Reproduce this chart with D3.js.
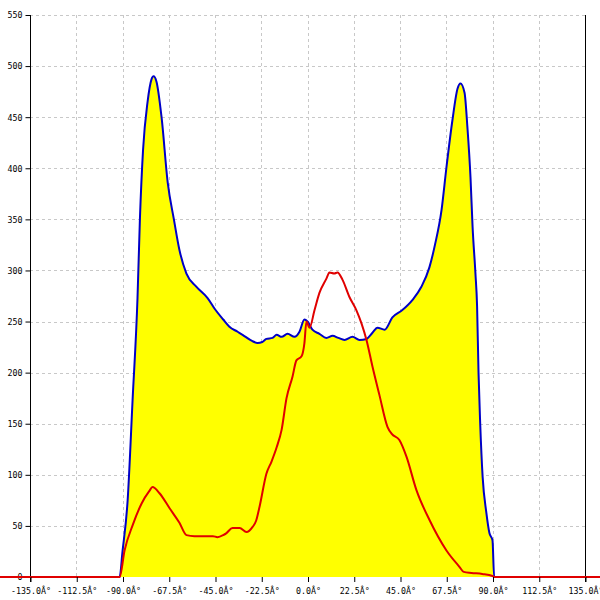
<!DOCTYPE html>
<html><head><meta charset="utf-8">
<script src="https://cdn.jsdelivr.net/npm/d3@7"></script>
<style>body{margin:0;background:#fff}</style>
</head><body>
<svg id="c" width="600" height="600"></svg>
<script>
const xTicks = [-135, -112.5, -90, -67.5, -45, -22.5, 0, 22.5, 45, 67.5, 90, 112.5, 135];
const yTicks = [0, 50, 100, 150, 200, 250, 300, 350, 400, 450, 500, 550];
const blueAngles = [-180,-91.4,-90,-87.5,-85.1,-82.7,-81.5,-80,-77.8,-75.9,-74.9,-73.5,-71,-68,-65,-62.3,-58.9,-54,-48.6,-45,-41,-38,-34,-31.6,-27,-24.3,-22,-20,-17,-15,-12.6,-9.7,-6.3,-3.9,-1.5,0,2.4,5.8,9.2,12.2,15,18,21.9,25.3,28.7,31.6,34,37.5,41.3,46,51,55.4,59.3,62,65.2,67.6,70.5,73,74.4,76.4,77.8,79.3,80.3,81.7,82.5,83.2,84,85.2,87,88.5,90,90.8,180];
const blueValues = [0,0,25,75,173,273,352,418,465,487,490,485,450,386,350,320,297,284,273,262,252,245,240,237,231,229,230,233,234,237,235,238,235,240,252,250,242,238,234,236,234,232,235,232,233,239,244,242,254,261,271,284,303,325,359,401,447,478,483,474,440,391,343,297,265,200,151,98,63,43,36,0,0];
const redAngles = [-180,-91.4,-89,-85,-80.7,-77,-75.4,-72,-67,-62.3,-58.9,-55,-46,-43.8,-41,-39.4,-36.5,-33,-29.7,-26.7,-25,-23.3,-20,-17.5,-15,-12.6,-10.2,-7.3,-5.4,-2.9,-1.5,-0.5,1,3.4,5.8,9.2,10.7,13,14.6,17,20.4,23.8,26.3,28.7,31.6,35,38.9,41,44.7,48.1,53,59.3,67.6,73.9,76,79.8,85,90,91,180];
const redValues = [0,0,26,51,72,84,88,82,67,53,41,40,40,39,41,43,48,48,44,49,55,69,101,113,127,144,175,196,212,216,229,250,244,261,278,292,298,297,298,291,274,261,248,232,206,178,147,140,134,118,85,56,26,10,5,4,3,1,0,0];

const svg = d3.select("#c");
const x = d3.scaleLinear().domain([-135, 135]).range([30, 585]);
const y = d3.scaleLinear().domain([0, 550]).range([577, 15]);
const font = "'DejaVu Sans Mono', monospace";

// grid
svg.append("g").selectAll("line").data(yTicks.filter(d => d > 0)).join("line")
  .attr("x1", 30).attr("x2", 585).attr("y1", d => Math.round(y(d)) + 0.5).attr("y2", d => Math.round(y(d)) + 0.5)
  .attr("stroke", "#c8c8c8").attr("stroke-dasharray", "3,3");
svg.append("g").selectAll("line").data(xTicks.filter(d => d > -135 && d < 135)).join("line")
  .attr("x1", d => Math.round(x(d)) + 0.5).attr("x2", d => Math.round(x(d)) + 0.5).attr("y1", 15).attr("y2", 577)
  .attr("stroke", "#c8c8c8").attr("stroke-dasharray", "3,3");

const blue = blueAngles.map((a, i) => [a, blueValues[i]]);
const red = redAngles.map((a, i) => [a, redValues[i]]);
const curve = d3.curveMonotoneX;

svg.append("path").datum(blue)
  .attr("d", d3.area().x(d => x(d[0])).y0(y(0)).y1(d => y(d[1])).curve(curve))
  .attr("fill", "#ffff00");
svg.append("path").datum(blue)
  .attr("d", d3.line().x(d => x(d[0])).y(d => y(d[1])).curve(curve))
  .attr("fill", "none").attr("stroke", "#0000c8").attr("stroke-width", 2);

// axes
const yAxis = svg.append("g").attr("transform", "translate(30.5,0)")
  .call(d3.axisLeft(y).tickValues(yTicks).tickSize(5).tickPadding(3).tickFormat(d3.format("d")));
yAxis.select(".domain").attr("d", `M0,${y(550)}V582`);
svg.append("line").attr("x1", 585.5).attr("x2", 585.5).attr("y1", 15).attr("y2", 582)
  .attr("stroke", "#000");

svg.append("path").datum(red)
  .attr("d", d3.line().x(d => x(d[0])).y(d => y(d[1])).curve(curve))
  .attr("fill", "none").attr("stroke", "#e00000").attr("stroke-width", 2);

const xAxis = svg.append("g").attr("transform", `translate(0.5,${y(0)})`)
  .call(d3.axisBottom(x).tickValues(xTicks).tickSize(5).tickPadding(6)
    .tickFormat(d => d.toFixed(1) + "Â°"));
xAxis.select(".domain").remove();

svg.selectAll(".tick text").attr("font-family", font).attr("font-size", 8.3).attr("fill", "#000");
yAxis.selectAll(".tick text").attr("dy", "0.35em");
</script>
</body></html>
